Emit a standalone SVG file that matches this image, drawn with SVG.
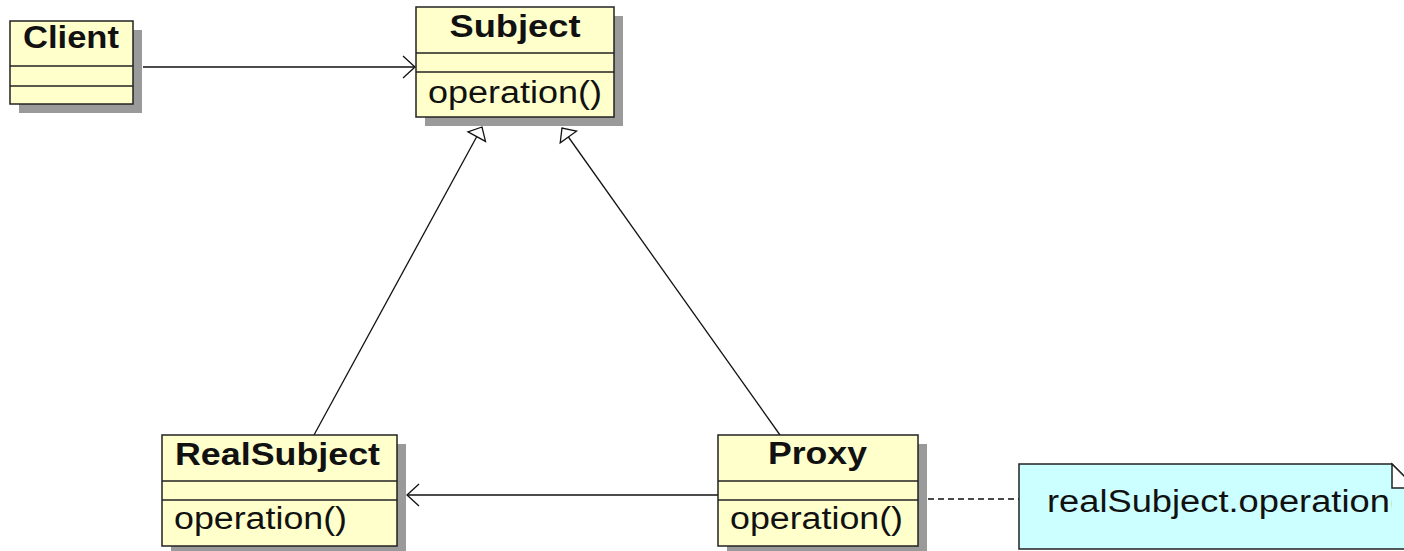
<svg xmlns="http://www.w3.org/2000/svg" width="1404" height="551" viewBox="0 0 1404 551">
  <style>
    .shadow { fill: #9a9a9a; }
    .box { fill: #ffffcc; stroke: #222; stroke-width: 1.5; }
    .sep { stroke: #222; stroke-width: 1.5; }
    .title { font-family: "Liberation Sans", Arial, sans-serif; font-size: 31px; font-weight: bold; fill: #111; text-anchor: middle; }
    .op { font-family: "Liberation Sans", Arial, sans-serif; font-size: 31px; fill: #111; }
    .conn { stroke: #111; stroke-width: 1.3; fill: none; }
    .dash { stroke: #111; stroke-width: 1.3; fill: none; stroke-dasharray: 6 4; }
    .note { fill: #ccffff; stroke: #222; stroke-width: 1.5; }
  </style>
  <defs>
    <marker id="open" viewBox="-14 -13 16 26" refX="0" refY="0" markerWidth="16" markerHeight="26" markerUnits="userSpaceOnUse" orient="auto" overflow="visible">
      <path d="M -12 -11 L 0 0 L -12 11" fill="none" stroke="#111" stroke-width="1.3"/>
    </marker>
    <marker id="tri" viewBox="-13 -12 15 24" refX="0" refY="0" markerWidth="15" markerHeight="24" markerUnits="userSpaceOnUse" orient="auto" overflow="visible">
      <path d="M 0 0 L -11 -10 L -11 10 Z" fill="#fff" stroke="#111" stroke-width="1.3"/>
    </marker>
    <clipPath id="noteClip">
      <rect x="1019" y="464" width="373" height="85"/>
    </clipPath>
  </defs>

  <g id="connectors">
    <line class="conn" x1="143" y1="67" x2="415" y2="67" marker-end="url(#open)"/>
    <line class="conn" x1="718" y1="495" x2="407" y2="495" marker-end="url(#open)"/>
    <line class="conn" x1="314" y1="435" x2="482" y2="127" marker-end="url(#tri)"/>
    <line class="conn" x1="780" y1="435" x2="562" y2="128" marker-end="url(#tri)"/>
    <line class="dash" x1="928" y1="499" x2="1019" y2="499"/>
  </g>

  <g id="client">
    <rect class="shadow" x="19" y="30" width="123" height="83"/>
    <rect class="box" x="10" y="21" width="123" height="83"/>
    <line class="sep" x1="10" y1="66" x2="133" y2="66"/>
    <line class="sep" x1="10" y1="86" x2="133" y2="86"/>
    <text class="title" x="71" y="48" textLength="96" lengthAdjust="spacingAndGlyphs">Client</text>
  </g>

  <g id="subject">
    <rect class="shadow" x="425" y="16" width="198" height="110"/>
    <rect class="box" x="416" y="7" width="198" height="110"/>
    <line class="sep" x1="416" y1="53" x2="614" y2="53"/>
    <line class="sep" x1="416" y1="72" x2="614" y2="72"/>
    <text class="title" x="515" y="37" textLength="131" lengthAdjust="spacingAndGlyphs">Subject</text>
    <text class="op" x="428" y="103" textLength="174" lengthAdjust="spacingAndGlyphs">operation()</text>
  </g>

  <g id="realsubject">
    <rect class="shadow" x="171" y="444" width="235" height="111"/>
    <rect class="box" x="162" y="435" width="235" height="111"/>
    <line class="sep" x1="162" y1="481" x2="397" y2="481"/>
    <line class="sep" x1="162" y1="500" x2="397" y2="500"/>
    <text class="title" x="277.5" y="465" textLength="205" lengthAdjust="spacingAndGlyphs">RealSubject</text>
    <text class="op" x="174" y="529" textLength="173" lengthAdjust="spacingAndGlyphs">operation()</text>
  </g>

  <g id="proxy">
    <rect class="shadow" x="727" y="444" width="200" height="111"/>
    <rect class="box" x="718" y="435" width="200" height="111"/>
    <line class="sep" x1="718" y1="481" x2="918" y2="481"/>
    <line class="sep" x1="718" y1="500" x2="918" y2="500"/>
    <text class="title" x="817.5" y="464" textLength="99" lengthAdjust="spacingAndGlyphs">Proxy</text>
    <text class="op" x="730" y="529" textLength="173" lengthAdjust="spacingAndGlyphs">operation()</text>
  </g>

  <g id="note">
    <path class="note" d="M 1019 464 L 1392 464 L 1416 488 L 1416 549 L 1019 549 Z"/>
    <text class="op" x="1047" y="512" textLength="367" lengthAdjust="spacingAndGlyphs" clip-path="url(#noteClip)">realSubject.operation()</text>
    <path d="M 1392 464 L 1392 488 L 1416 488 Z" fill="#fff" stroke="#222" stroke-width="1.5"/>
  </g>
</svg>
